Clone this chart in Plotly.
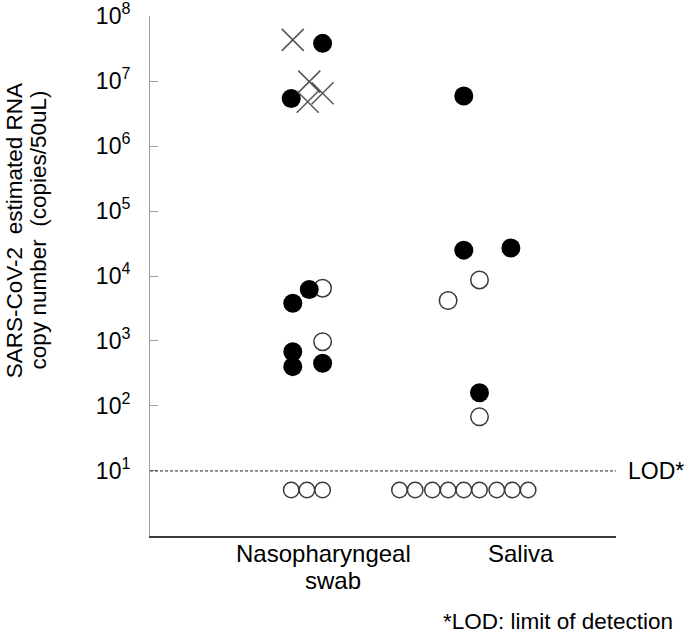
import plotly.graph_objects as go

# ---- data ----
categories = ["Nasopharyngeal swab", "Saliva"]
cat_pos = {"Nasopharyngeal swab": 1, "Saliva": 2}

# Nasopharyngeal swab
np_cross_off = [-0.09, 0.015, 0.10, 0.005]
np_cross_val = [4.3e7, 9.8e6, 6.5e6, 4.8e6]
np_filled_off = [0.10, -0.10, 0.015, -0.09, -0.09, -0.09, 0.10]
np_filled_val = [3.8e7, 5.4e6, 6.2e3, 3.8e3, 684, 403, 454]
np_open_off = [0.10, 0.10]
np_open_val = [6.5e3, 975]
np_below_off = [-0.10, 0.0, 0.10]

# Saliva
sa_filled_off = [0.0, 0.0, 0.30, 0.10]
sa_filled_val = [5.9e6, 2.5e4, 2.7e4, 160]
sa_open_off = [0.10, -0.10, 0.10]
sa_open_val = [8.7e3, 4.2e3, 68]
sa_below_off = [-0.41, -0.31, -0.20, -0.10, 0.0, 0.10, 0.21, 0.31, 0.41]

below_lod_val = 5.1
LOD = 10

tick_vals = [1e1, 1e2, 1e3, 1e4, 1e5, 1e6, 1e7, 1e8]
tick_text = ["10<sup>1</sup>", "10<sup>2</sup>", "10<sup>3</sup>", "10<sup>4</sup>",
             "10<sup>5</sup>", "10<sup>6</sup>", "10<sup>7</sup>", "10<sup>8</sup>"]

FONT = "Liberation Sans, Arial, sans-serif"

def xs(cat, offs):
    return [cat_pos[cat] + o for o in offs]

fig = go.Figure()

filled_marker = dict(symbol="circle", size=19, color="black", line=dict(width=0))
open_marker = dict(symbol="circle", size=17.5, color="white", line=dict(color="#3a3a3a", width=1.5))
small_open_marker = dict(symbol="circle", size=15.5, color="white", line=dict(color="#3a3a3a", width=1.5))
cross_marker = dict(symbol="x-thin", size=22, color="#555555", line=dict(color="#555555", width=1.5))

# below-LOD rows
fig.add_trace(go.Scatter(x=xs("Nasopharyngeal swab", np_below_off), y=[below_lod_val] * len(np_below_off),
                         mode="markers", marker=small_open_marker, showlegend=False))
fig.add_trace(go.Scatter(x=xs("Saliva", sa_below_off), y=[below_lod_val] * len(sa_below_off),
                         mode="markers", marker=small_open_marker, showlegend=False))
# open circles
fig.add_trace(go.Scatter(x=xs("Nasopharyngeal swab", np_open_off), y=np_open_val,
                         mode="markers", marker=open_marker, showlegend=False))
fig.add_trace(go.Scatter(x=xs("Saliva", sa_open_off), y=sa_open_val,
                         mode="markers", marker=open_marker, showlegend=False))
# filled circles
fig.add_trace(go.Scatter(x=xs("Nasopharyngeal swab", np_filled_off), y=np_filled_val,
                         mode="markers", marker=filled_marker, showlegend=False))
fig.add_trace(go.Scatter(x=xs("Saliva", sa_filled_off), y=sa_filled_val,
                         mode="markers", marker=filled_marker, showlegend=False))
# crosses
fig.add_trace(go.Scatter(x=xs("Nasopharyngeal swab", np_cross_off), y=np_cross_val,
                         mode="markers", marker=cross_marker, showlegend=False))

# LOD line
fig.add_shape(type="line", xref="paper", yref="y", x0=0, x1=1, y0=LOD, y1=LOD,
              line=dict(color="#222222", width=1, dash="3px,2px"))

annotations = [
    dict(text="LOD*", x=1.022, y=1, xref="paper", yref="y", xanchor="left", yanchor="middle",
         showarrow=False, font=dict(size=23, color="black", family=FONT)),
    dict(text="*LOD: limit of detection", x=1.127, y=-0.165, xref="paper", yref="paper",
         xanchor="right", yanchor="middle", showarrow=False,
         font=dict(size=22.5, color="black", family=FONT)),
    dict(text="Nasopharyngeal", x=1.103, y=-0.033, xref="x", yref="paper",
         xanchor="center", yanchor="middle", showarrow=False,
         font=dict(size=24, color="black", family=FONT)),
    dict(text="swab", x=1.165, y=-0.085, xref="x", yref="paper",
         xanchor="center", yanchor="middle", showarrow=False,
         font=dict(size=24, color="black", family=FONT)),
    dict(text="Saliva", x=2.365, y=-0.033, xref="x", yref="paper",
         xanchor="center", yanchor="middle", showarrow=False,
         font=dict(size=24, color="black", family=FONT)),
    dict(text="SARS-CoV-2  estimated RNA", x=-0.292, y=0.588, xref="paper", yref="paper",
         textangle=-90, xanchor="center", yanchor="middle", showarrow=False,
         font=dict(size=22.5, color="black", family=FONT)),
    dict(text="copy number  (copies/50uL)", x=-0.240, y=0.588, xref="paper", yref="paper",
         textangle=-90, xanchor="center", yanchor="middle", showarrow=False,
         font=dict(size=22.5, color="black", family=FONT)),
]

fig.update_layout(
    width=688, height=635,
    margin=dict(l=150, r=72, t=16, b=99, autoexpand=False),
    paper_bgcolor="white", plot_bgcolor="white",
    font=dict(family=FONT, color="black"),
    annotations=annotations,
    xaxis=dict(range=[0, 2.97], showgrid=False, zeroline=False, showticklabels=False,
               ticks="", showline=True, linecolor="#3c3c3c", linewidth=2, automargin=False),
    yaxis=dict(type="log", range=[-0.001, 8.001], showgrid=False, zeroline=False,
               tickvals=tick_vals, ticktext=tick_text, ticks="inside", ticklen=8,
               tickcolor="#a0a0a0", tickwidth=1, showline=True, linecolor="#a0a0a0",
               linewidth=1, ticklabelstandoff=14, ticklabeloverflow="allow",
               automargin=False,
               tickfont=dict(size=23, color="black", family=FONT)),
)

fig.write_html("out.html",
               config={"displayModeBar": False},
               post_script="document.body.style.margin='0';document.body.style.overflow='hidden';")
